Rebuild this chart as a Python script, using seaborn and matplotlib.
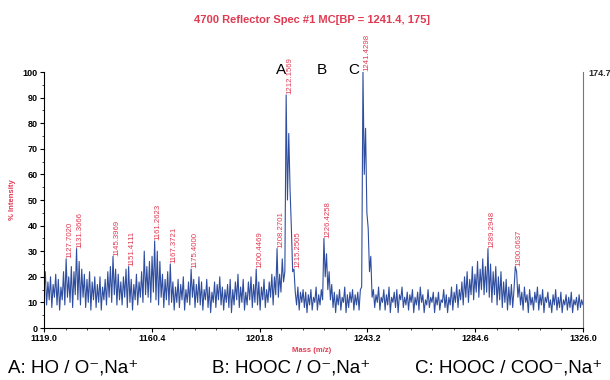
import numpy as np
import pandas as pd
import matplotlib
matplotlib.use('Agg')
import matplotlib.pyplot as plt
import seaborn as sns
from matplotlib.ticker import MultipleLocator, AutoMinorLocator

# spectrum: intensities (%) every 0.5 Da from 1119.0 to 1326.0
mz_start, mz_end, mz_step = 1119.0, 1326.0, 0.5
intensity = [
    14, 22, 9, 18, 11, 20, 8, 17, 12, 21, 9, 19, 7, 16, 11, 22, 9, 27, 12, 20,      # 1119
    10, 24, 8, 22, 13, 31, 11, 26, 9, 23, 12, 21, 8, 19, 10, 22, 7, 18, 11, 20,     # 1129
    8, 17, 10, 20, 7, 16, 11, 19, 9, 22, 12, 24, 10, 28, 13, 23, 9, 21, 11, 18,     # 1139
    9, 20, 12, 23, 8, 24, 10, 19, 7, 17, 11, 21, 9, 18, 12, 22, 10, 30, 13, 24,     # 1149
    12, 26, 10, 28, 14, 34, 11, 30, 9, 26, 12, 21, 8, 19, 11, 22, 9, 25, 10, 18,    # 1159
    7, 16, 10, 19, 8, 17, 11, 20, 7, 15, 10, 18, 9, 23, 12, 19, 8, 17, 10, 20,      # 1169
    9, 18, 7, 15, 11, 19, 8, 16, 6, 14, 10, 18, 8, 17, 11, 20, 9, 16, 7, 15,        # 1179
    10, 17, 8, 19, 6, 15, 9, 18, 11, 21, 8, 16, 10, 19, 7, 14, 9, 18, 11, 20,       # 1189
    8, 17, 10, 23, 9, 18, 7, 16, 11, 19, 8, 15, 10, 18, 12, 21, 9, 20, 13, 31,      # 1199
    12, 21, 14, 27, 18, 22, 91, 50, 76, 54, 39, 22, 23, 14, 9, 16, 7, 14, 10, 15,   # 1209
    8, 14, 6, 13, 9, 15, 7, 12, 10, 16, 7, 13, 9, 15, 11, 35, 20, 29, 15, 22,       # 1219
    11, 17, 8, 14, 6, 13, 9, 15, 7, 12, 10, 16, 6, 13, 8, 14, 10, 15, 7, 13,        # 1229
    9, 14, 7, 15, 16, 100, 60, 78, 45, 39, 22, 28, 12, 15, 8, 13, 10, 16, 7, 12,    # 1239
    10, 15, 7, 13, 9, 16, 6, 12, 10, 14, 8, 15, 6, 13, 11, 16, 8, 12, 9, 14,        # 1249
    7, 13, 10, 15, 6, 12, 9, 14, 7, 16, 10, 13, 6, 11, 9, 15, 8, 12, 10, 14,        # 1259
    6, 12, 9, 14, 7, 11, 10, 15, 8, 13, 6, 12, 9, 16, 7, 14, 10, 17, 8, 15,         # 1269
    11, 18, 9, 20, 12, 22, 10, 19, 13, 24, 11, 21, 14, 26, 12, 23, 15, 27, 13, 24,  # 1279
    14, 31, 12, 25, 10, 22, 13, 24, 9, 20, 11, 22, 8, 18, 10, 19, 7, 16, 9, 17,     # 1289
    8, 15, 24, 22, 12, 17, 9, 14, 7, 16, 10, 13, 6, 15, 9, 12, 7, 14, 10, 16,       # 1299
    7, 13, 9, 15, 6, 12, 10, 14, 8, 11, 6, 13, 9, 15, 7, 12, 8, 14, 6, 11,          # 1309
    9, 13, 7, 12, 8, 14, 6, 11, 9, 12, 7, 13, 8, 11, 9,                             # 1319
]
mz = np.arange(mz_start, mz_end + mz_step / 2, mz_step)

# labelled peaks
peak_mz = [1127.5, 1131.5, 1145.5, 1151.5, 1161.5, 1167.5, 1175.5, 1200.5,
           1208.5, 1212.0, 1215.0, 1226.5, 1241.5, 1289.5, 1300.0]
peak_int = [27, 31, 28, 24, 34, 25, 23, 23, 31, 91, 23, 35, 100, 31, 24]
peak_txt = ['1127.7020', '1131.3666', '1145.3969', '1151.4111', '1161.2623',
            '1167.3721', '1175.4000', '1200.4469', '1208.2701', '1212.1569',
            '1215.2505', '1226.4258', '1241.4298', '1289.2948', '1300.0637']

abc_txt = ['A', 'B', 'C']
abc_mz = [1210.0, 1225.8, 1237.8]

xticks = [1119.0, 1160.4, 1201.8, 1243.2, 1284.6, 1326.0]
legend_txt = ['A: HO / O\u207b,Na\u207a', 'B: HOOC / O\u207b,Na\u207a', 'C: HOOC / COO\u207b,Na\u207a']

red = '#e03a52'
blue = '#2f4e9f'

sns.set_style('white')
plt.rcParams['font.family'] = ['Liberation Sans', 'DejaVu Sans']

df = pd.DataFrame({'mz': mz, 'intensity': intensity})

fig = plt.figure(figsize=(6.1, 3.8), dpi=100)
ax = fig.add_axes([44/610, 1-328/380, (583-44)/610, (328-72)/380])
sns.lineplot(data=df, x='mz', y='intensity', estimator=None, color=blue, lw=0.8, ax=ax)

ax.set_xlim(mz_start, mz_end)
ax.set_ylim(0, 100)
ax.set_xticks(xticks)
ax.set_xticklabels(['%.1f' % t for t in xticks], fontsize=6.5, fontweight='bold')
ax.xaxis.set_minor_locator(AutoMinorLocator(5))
ax.yaxis.set_major_locator(MultipleLocator(10))
ax.yaxis.set_minor_locator(MultipleLocator(5))
for lab in ax.get_yticklabels():
    lab.set_fontsize(6.5)
    lab.set_fontweight('bold')
ax.tick_params(which='major', direction='out', length=3, width=0.8, pad=1.5, colors='black', bottom=True, left=True)
ax.tick_params(which='minor', direction='out', length=1.5, width=0.6, bottom=True, left=True)
ax.set_xlabel('')
ax.set_ylabel('')
ax.spines['top'].set_visible(False)
for s in ['left', 'bottom']:
    ax.spines[s].set_color('black')
    ax.spines[s].set_linewidth(0.8)
ax.spines['right'].set_color('#777777')
ax.spines['right'].set_linewidth(0.8)

for x, y, t in zip(peak_mz, peak_int, peak_txt):
    ax.text(x + 1.4, y + 0.3, t, rotation=90, ha='center', va='bottom',
            fontsize=5.6, color=red, clip_on=False)

for t, x in zip(abc_txt, abc_mz):
    ax.text(x, 100.8, t, ha='center', va='center', fontsize=11, color='black')

fig.text(312/610, 1-20/380, '4700 Reflector Spec #1 MC[BP = 1241.4, 175]',
         ha='center', va='center', fontsize=8, fontweight='bold', color=red)
fig.text(12/610, 1-200/380, '% Intensity', rotation=90, ha='center', va='center',
         fontsize=5.5, fontweight='bold', color=red)
fig.text(312/610, 1-351/380, 'Mass (m/z)', ha='center', va='center',
         fontsize=5.5, fontweight='bold', color=red)
fig.text(588/610, 1-74/380, '174.7', ha='left', va='center', fontsize=6.5, fontweight='bold')

for x0, t in zip([8, 212, 415], legend_txt):
    fig.text(x0/610, 1-368/380, t, ha='left', va='center', fontsize=13.5, color='black')

fig.savefig('out.png', dpi=100)
